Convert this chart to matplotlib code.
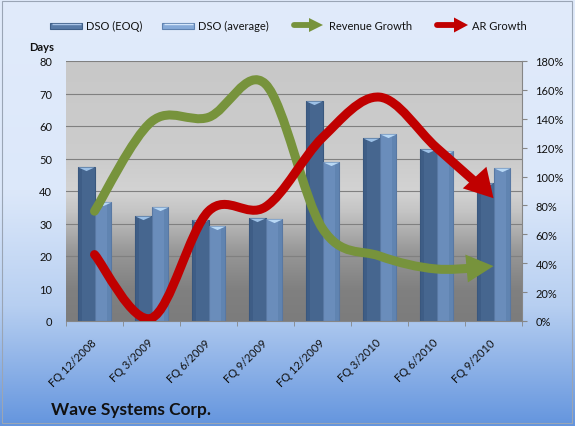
import numpy as np
import matplotlib
matplotlib.use("Agg")
import matplotlib.pyplot as plt
from matplotlib.path import Path
from matplotlib.patches import PathPatch, Polygon, Rectangle
from matplotlib.colors import LinearSegmentedColormap

# ---------------- data ----------------
categories = ["FQ 12/2008", "FQ 3/2009", "FQ 6/2009", "FQ 9/2009",
              "FQ 12/2009", "FQ 3/2010", "FQ 6/2010", "FQ 9/2010"]
dso_eoq = [47.3, 32.3, 31.0, 31.6, 67.8, 56.4, 52.9, 42.4]
dso_avg = [36.6, 35.0, 29.2, 31.4, 48.9, 57.5, 52.3, 47.0]
revenue_growth = [76, 138, 141, 164, 64, 45, 36, 38]   # percent
ar_growth = [46, 2, 76, 79, 127, 155, 120, 85]          # percent
days_ticks = [0, 10, 20, 30, 40, 50, 60, 70, 80]
pct_ticks = [0, 20, 40, 60, 80, 100, 120, 140, 160, 180]

plt.rcParams['font.family'] = ['Lato', 'DejaVu Sans']

W, H = 575, 427
fig = plt.figure(figsize=(W / 100, H / 100), dpi=100)

def fx(px):
    return px / W

def fy(py):
    return 1 - py / H

# ---------------- background axes (pixel coords) ----------------
bg = fig.add_axes([0, 0, 1, 1])
bg.set_xlim(0, W)
bg.set_ylim(H, 0)
bg.axis("off")
bg.set_zorder(-1)
bg_cmap = LinearSegmentedColormap.from_list(
    "bgc", [(0.0, "#e1ebfb"), (0.45, "#dce8fa"), (0.72, "#b7cff1"), (1.0, "#6495de")])
grad = np.linspace(0, 1, 256).reshape(-1, 1)
bg.imshow(grad, extent=[0, W, H, 0], cmap=bg_cmap, aspect="auto", origin="upper",
          interpolation="bilinear")
bg.add_patch(Rectangle((1.5, 1.5), 570.5, 422.5, fill=False, ec="#9aa5b5", lw=0.8))

# legend
def swatch(x0, fc, ec, hi):
    bg.add_patch(Rectangle((x0, 23.5), 32, 6, fc=fc, ec=ec, lw=0.8))
    bg.plot([x0 + 1.5, x0 + 30.5], [25.3, 25.3], color=hi, lw=1.0, solid_capstyle="butt")

swatch(50, "#587aa6", "#3f5f88", "#a9c3e6")
swatch(162, "#86aad8", "#5f82b0", "#d4e6fa")

def legend_arrow(x0, x1, color, hw):
    y = 26
    bg.plot([x0 + 2, x1 - 12], [y, y], color=color, lw=4.2, solid_capstyle="round")
    bg.add_patch(Polygon([(x1 - 14, y - hw / 2), (x1, y), (x1 - 14, y + hw / 2)],
                         closed=True, fc=color, ec="none"))

legend_arrow(292, 323, "#77933c", 14)
legend_arrow(435, 468, "#c00000", 15)

txt_kw = dict(fontsize=8, color="#111111", va="center", ha="left")
bg.text(86, 26.5, "DSO (EOQ)", **txt_kw)
bg.text(198, 26.5, "DSO (average)", **txt_kw)
bg.text(329, 26.5, "Revenue Growth", **txt_kw)
bg.text(472, 26.5, "AR Growth", **txt_kw)
bg.text(29, 47.5, "Days", fontsize=8, fontweight="bold", color="#111111", va="center", ha="left")
bg.text(51, 410, "Wave Systems Corp.", fontsize=12.5, fontweight="bold", color="#111111",
        va="center", ha="left")

# ---------------- main axes ----------------
L, R, T, B = 66, 522, 62, 322
ax = fig.add_axes([fx(L), fy(B), fx(R) - fx(L), fy(T) - fy(B)])
ax.patch.set_visible(False)
pa_cmap = LinearSegmentedColormap.from_list(
    "pac", [(0.0, "#7c7c7c"), (0.12, "#808080"), (0.27, "#989898"), (0.42, "#c4c4c4"),
            (0.5, "#d3d3d3"), (0.6, "#cdcdcd"), (1.0, "#c8c8c8")])
ax.imshow(np.linspace(0, 1, 256).reshape(-1, 1), extent=[0, 1, 0, 1], origin="lower",
          cmap=pa_cmap, aspect="auto", transform=ax.transAxes, zorder=0,
          interpolation="bilinear")

n = len(categories)
xpos = np.arange(n)
bw = 0.29
ax.set_xlim(-0.5, n - 0.5)
ax.set_ylim(0, 80)
ax.bar(xpos - bw / 2, dso_eoq, width=bw, color="#46668f", edgecolor="#39577d", lw=0.8, zorder=3)
ax.bar(xpos + bw / 2, dso_avg, width=bw, color="#6a8dbb", edgecolor="#5878a3", lw=0.8, zorder=3)
# darker side shading for a cylinder look
ax.bar(xpos - bw / 2 - bw * 0.38, dso_eoq, width=bw * 0.22, color="#3a5880", lw=0, zorder=3.1, alpha=0.6)
ax.bar(xpos + bw / 2 + bw * 0.38, dso_avg, width=bw * 0.22, color="#5a7eab", lw=0, zorder=3.1, alpha=0.6)
cap = Path([(-1, 0), (1, 0), (0, -0.45), (-1, 0)], [1, 2, 2, 79])
ax.plot(xpos - bw / 2, dso_eoq, ls="none", marker=cap, ms=11.5, mfc="#9cc0e6", mec="none", zorder=4)
ax.plot(xpos + bw / 2, dso_avg, ls="none", marker=cap, ms=11.5, mfc="#b8d8f5", mec="none", zorder=4)

ax.set_yticks(days_ticks)
ax.yaxis.grid(True, color="#808080", lw=0.8, zorder=1)
ax.set_axisbelow(True)
for s in ["left", "right", "top"]:
    ax.spines[s].set_visible(False)
ax.spines["bottom"].set_color("#868686")
ax.spines["bottom"].set_zorder(5)
ax.tick_params(axis="y", length=0, pad=10, labelsize=8, labelcolor="#111111")
ax.set_xticks(xpos)
ax.set_xticklabels(categories, rotation=45, ha="right", va="center", rotation_mode="anchor")
ax.tick_params(axis="x", which="major", length=0, pad=14, labelsize=8, labelcolor="#111111")
ax.set_xticks(np.arange(n + 1) - 0.5, minor=True)
ax.tick_params(axis="x", which="minor", length=3.6, color="#868686", direction="out")

# secondary axis
ax2 = ax.twinx()
ax2.set_ylim(0, 180)
ax2.set_yticks(pct_ticks)
ax2.set_yticklabels([f"{v}%" for v in pct_ticks])
for s in ["left", "top", "bottom"]:
    ax2.spines[s].set_visible(False)
ax2.spines["right"].set_color("#868686")
ax2.tick_params(axis="y", length=3.6, color="#868686", labelsize=8, labelcolor="#111111", pad=6)
ax2.set_xlim(-0.5, n - 0.5)

def smooth_segments(xs, ys):
    pts = np.column_stack([xs, ys]).astype(float)
    m = len(pts)
    segs = []
    for i in range(m - 1):
        p0 = pts[i - 1] if i > 0 else pts[i]
        p1, p2 = pts[i], pts[i + 1]
        p3 = pts[i + 2] if i + 2 < m else pts[i + 1]
        c1 = p1 + (p2 - p0) / 6
        c2 = p2 - (p3 - p1) / 6
        segs.append([p1, c1, c2, p2])
    return segs

def bez(seg, t):
    p0, p1, p2, p3 = seg
    t = np.asarray(t)[:, None]
    return ((1 - t) ** 3) * p0 + 3 * ((1 - t) ** 2) * t * p1 + 3 * (1 - t) * t * t * p2 + t ** 3 * p3

def split(seg, t):
    p0, p1, p2, p3 = [np.asarray(p) for p in seg]
    a = p0 + (p1 - p0) * t
    b = p1 + (p2 - p1) * t
    c = p2 + (p3 - p2) * t
    d = a + (b - a) * t
    e = b + (c - b) * t
    f = d + (e - d) * t
    return [p0, a, d, f]

def smooth_arrow(axis, xs, ys, color, lw_px, head_len, head_w, z, turn=0.0):
    segs = smooth_segments(xs, ys)
    last = segs[-1]
    tr = axis.transData
    ts = np.linspace(0, 1, 2001)
    disp = tr.transform(bez(last, ts))
    tip = disp[-1]
    dist = np.hypot(*(disp - tip).T)
    t_cut = ts[np.argmin(np.abs(dist - head_len * 0.55))]
    t_base = ts[np.argmin(np.abs(dist - head_len))]
    segs[-1] = split(last, t_cut)
    verts = [segs[0][0]]
    codes = [Path.MOVETO]
    for s in segs:
        verts += [s[1], s[2], s[3]]
        codes += [Path.CURVE4] * 3
    axis.add_patch(PathPatch(Path(verts, codes), fill=False, ec=color,
                             lw=lw_px * 72 / 100, capstyle="round", joinstyle="round",
                             zorder=z))
    base = disp[np.argmin(np.abs(ts - t_base))]
    d = tip - base
    ang = np.arctan2(d[1], d[0]) + np.deg2rad(turn)
    d = np.array([np.cos(ang), np.sin(ang)])
    perp = np.array([-d[1], d[0]])
    b = tip - d * head_len
    head = np.array([tip, b + perp * head_w / 2, b - perp * head_w / 2])
    head_data = tr.inverted().transform(head)
    axis.add_patch(Polygon(head_data, closed=True, fc=color, ec="none", zorder=z))

smooth_arrow(ax2, xpos, revenue_growth, "#77933c", 9, 27, 28, 5)
smooth_arrow(ax2, xpos, ar_growth, "#c00000", 9, 28, 32, 6, turn=-6)

fig.savefig("out.png", dpi=100)
